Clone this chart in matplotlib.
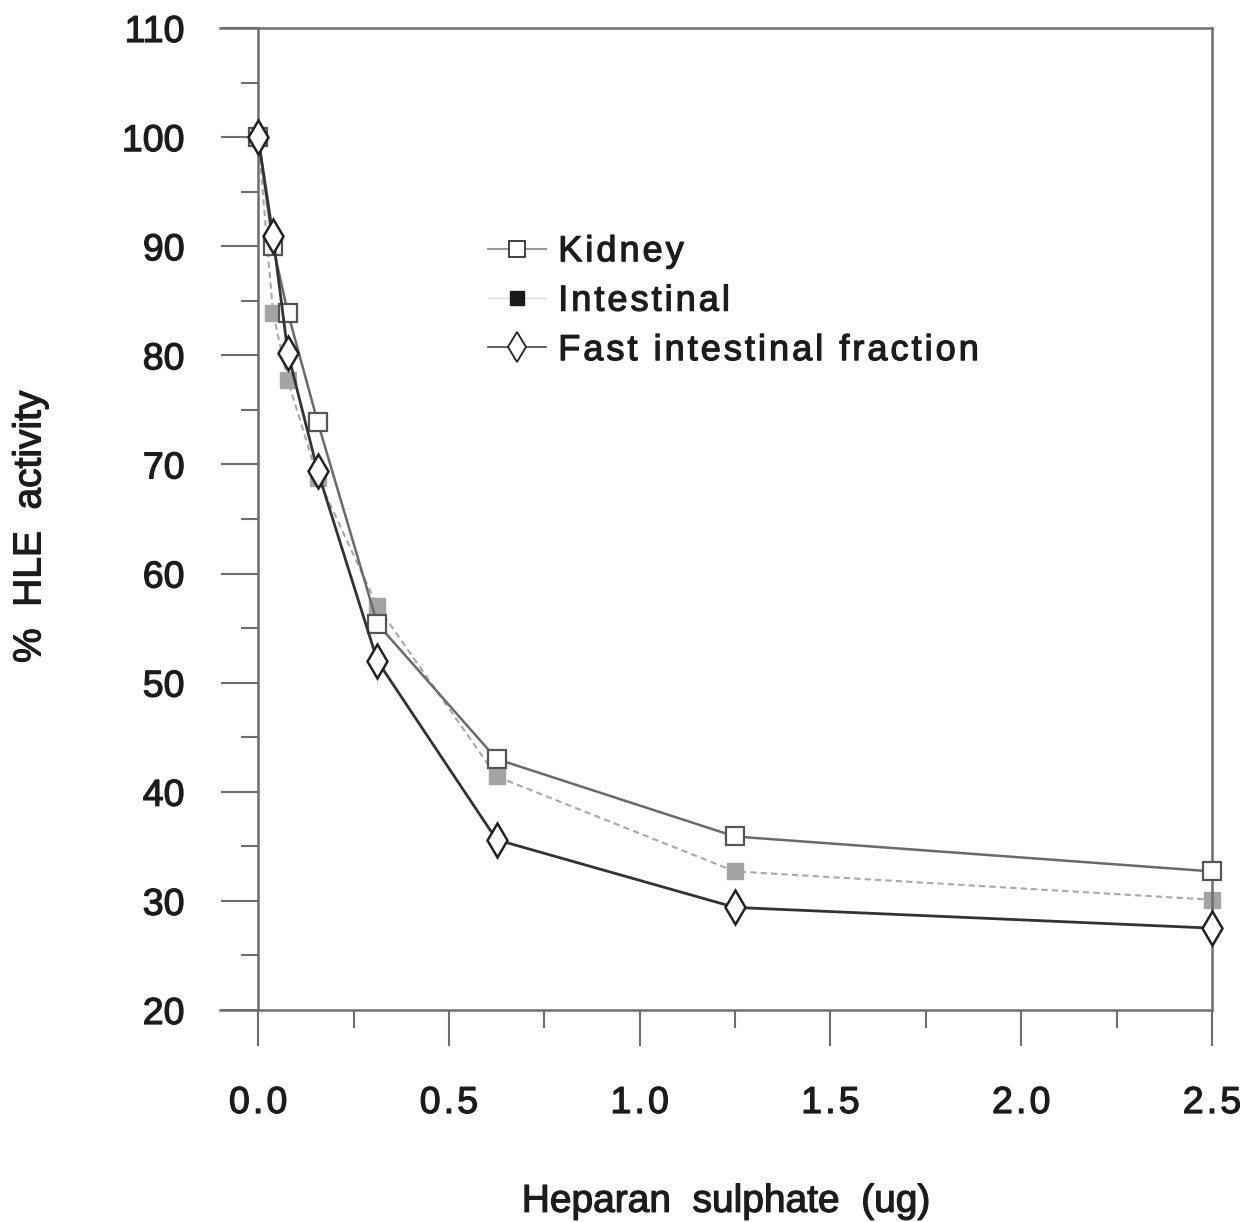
import matplotlib
matplotlib.use("Agg")
import matplotlib.pyplot as plt
import matplotlib.patheffects as pe
from matplotlib.lines import Line2D
from matplotlib.ticker import MultipleLocator

# heparan sulphate amounts (ug), doubling series
dose = [0.0, 0.039, 0.078, 0.156, 0.3125, 0.625, 1.25, 2.5]

kidney = [100.0, 90.0, 83.9, 73.9, 55.4, 43.0, 35.9, 32.7]
intestinal = [100.0, 83.9, 77.7, 68.8, 57.0, 41.4, 32.7, 30.1]
fast_fraction = [100.0, 90.9, 80.2, 69.4, 52.0, 35.6, 29.4, 27.5]

labels = ["Kidney", "Intestinal", "Fast intestinal fraction"]
xticks = [0.0, 0.5, 1.0, 1.5, 2.0, 2.5]


def spaced(s):
    # the original typesetting has wide letter spacing
    return "\u200a".join(s)


plt.rcParams['font.family'] = ['Liberation Sans', 'DejaVu Sans']
txt = "#1c1c1c"
axcol = "#6e6e6e"
heavy = [pe.withStroke(linewidth=0.9, foreground=txt)]

fig = plt.figure(figsize=(12.4, 12.22), dpi=100)
ax = fig.add_axes([0.1774, 0.1735, 0.80, 0.8036])

# series
ax.plot(dose, intestinal, color="#a8a8a8", lw=1.5, ls=(0, (3, 2)),
        marker="s", ms=12, mfc="#a4a4a4", mec="#a4a4a4", zorder=2, clip_on=False)
ax.plot(dose, kidney, color="#6a6a6a", lw=1.8,
        marker="s", ms=12.5, mfc="white", mec="#555555", mew=1.6, zorder=3, clip_on=False)
ax.plot(dose, fast_fraction, color="#333333", lw=2.0,
        marker="d", ms=17, mfc="white", mec="#222222", mew=1.8, zorder=4, clip_on=False)

ax.set_xlim(-0.1, 2.5)
ax.set_ylim(20, 110)

# spines: y axis sits at x = 0, frame on top and right
for s in ax.spines.values():
    s.set_color(axcol)
    s.set_linewidth(1.8)
ax.spines['left'].set_position(('data', 0))
ax.spines['left'].set_bounds(20, 110)

ax.xaxis.set_minor_locator(MultipleLocator(0.25))
ax.yaxis.set_major_locator(MultipleLocator(10))
ax.yaxis.set_minor_locator(MultipleLocator(5))
ax.set_xticks(xticks)
ax.set_xticklabels([spaced(f"{v:.1f}") for v in xticks])

ax.tick_params(axis='y', which='major', direction='out', length=27, width=1.5,
               color=axcol, pad=26, labelsize=27, labelcolor=txt)
ax.tick_params(axis='y', which='minor', direction='out', length=12, width=1.5,
               color=axcol)
ax.tick_params(axis='x', which='major', direction='out', length=26, width=1.5,
               color=axcol, pad=28, labelsize=27, labelcolor=txt)
ax.tick_params(axis='x', which='minor', direction='out', length=13, width=1.5,
               color=axcol)
for lab in ax.get_xticklabels() + ax.get_yticklabels():
    lab.set_path_effects(heavy)

ax.set_xlabel("Heparan  sulphate  (ug)", fontsize=28, color=txt, path_effects=heavy)
ax.xaxis.set_label_coords(0.51, -0.177)
ax.set_ylabel("%  HLE  activity", fontsize=28, color=txt, path_effects=heavy)
ax.yaxis.set_label_coords(-0.173, 0.492)

handles = [
    Line2D([], [], color="#9a9a9a", lw=1.5, marker="s", ms=11,
           mfc="white", mec="#333333", mew=1.3),
    Line2D([], [], color="#dddddd", lw=1.0, marker="s", ms=10,
           mfc="#1a1a1a", mec="#1a1a1a"),
    Line2D([], [], color="#444444", lw=1.2, marker="d", ms=15,
           mfc="white", mec="#222222", mew=1.3),
]
leg = ax.legend(handles, [spaced(l) for l in labels], loc="upper left",
                bbox_to_anchor=(0.27, 0.79), frameon=False,
                prop={'size': 26}, handlelength=1.6,
                handletextpad=0.35, labelspacing=0.4, borderpad=0, borderaxespad=0)
for t in leg.get_texts():
    t.set_color(txt)
    t.set_path_effects(heavy)

fig.savefig("out.png", dpi=100)
